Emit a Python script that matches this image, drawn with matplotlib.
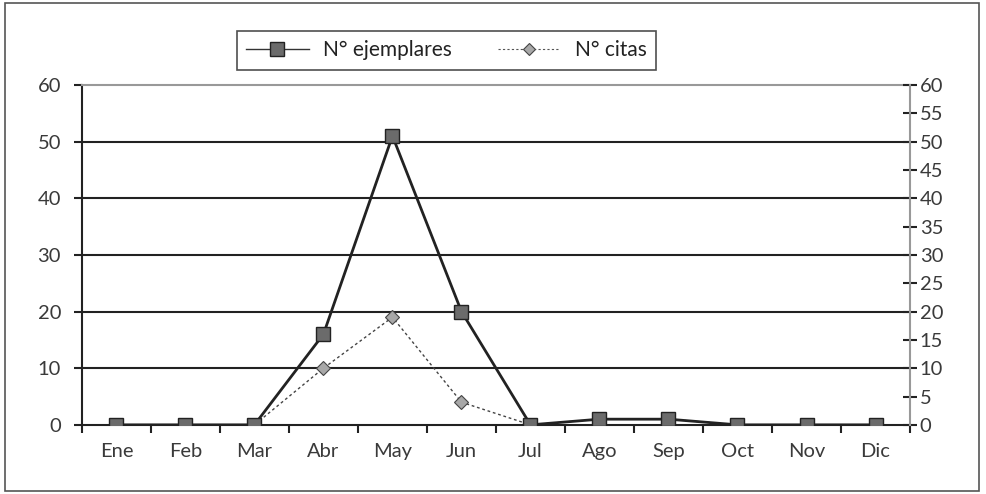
import matplotlib
matplotlib.use("Agg")
import matplotlib.pyplot as plt
from matplotlib.patches import Rectangle
from matplotlib.lines import Line2D

months = ["Ene", "Feb", "Mar", "Abr", "May", "Jun", "Jul", "Ago", "Sep", "Oct", "Nov", "Dic"]
ejemplares = [0, 0, 0, 16, 51, 20, 0, 1, 1, 0, 0, 0]
citas = [0, 0, 0, 10, 19, 4, 0, 1, 1, 0, 0, 0]
left_ticks = [0, 10, 20, 30, 40, 50, 60]
right_ticks = list(range(0, 61, 5))

plt.rcParams.update({"font.family": ["Lato", "DejaVu Sans"], "font.size": 14.5})

fig = plt.figure(figsize=(9.87, 4.94), dpi=100)
ax = fig.add_axes([0.083, 0.140, 0.839, 0.688])

x = list(range(len(months)))
ax.plot(x, ejemplares, color="#222222", lw=2, marker="s", ms=10,
        mfc="#6b6b6b", mec="#222222", mew=1, zorder=4)
ax.plot(x, citas, color="#444444", lw=1, ls=(0, (2, 2)), marker="D", ms=7,
        mfc="#a8a8a8", mec="#444444", mew=0.8, zorder=3)

ax.set_xlim(-0.5, len(months) - 0.5)
ax.set_ylim(0, 60)
ax.set_yticks(left_ticks)
for v in left_ticks[1:-1]:
    ax.axhline(v, color="#222222", lw=1.5, zorder=1)

ax.set_xticks(x)
ax.set_xticklabels(months, color="#3a3a3a")
ax.set_xticks([i - 0.5 for i in range(len(months) + 1)], minor=True)
ax.tick_params(axis="x", which="major", length=0, pad=13)
ax.tick_params(axis="x", which="minor", length=6, width=1.5, direction="out", color="#222222")
ax.tick_params(axis="y", length=6, width=1.5, color="#222222", labelcolor="#3a3a3a", pad=9)

ax.spines["left"].set_color("#222222")
ax.spines["left"].set_linewidth(1.5)
ax.spines["bottom"].set_color("#222222")
ax.spines["bottom"].set_linewidth(1.5)
ax.spines["top"].set_color("#999999")
ax.spines["top"].set_linewidth(1.5)
ax.spines["right"].set_visible(False)

ax2 = ax.twinx()
ax2.set_ylim(0, 60)
ax2.set_yticks(right_ticks)
ax2.tick_params(axis="y", length=10, width=1.5, direction="inout", color="#222222",
                labelcolor="#3a3a3a", pad=2)
ax2.spines["right"].set_color("#999999")
ax2.spines["right"].set_linewidth(1.5)
for s in ["left", "top", "bottom"]:
    ax2.spines[s].set_visible(False)

handles = [
    Line2D([], [], color="#333333", lw=1, marker="s", ms=10, mfc="#6b6b6b", mec="#222222"),
    Line2D([], [], color="#555555", lw=0.8, ls=(0, (2, 2)), marker="D", ms=6,
           mfc="#a8a8a8", mec="#444444", mew=0.8),
]
leg = fig.legend(handles, ["N° ejemplares", "N° citas"], loc="center",
                 bbox_to_anchor=(0.4524, 0.898), ncol=2, frameon=True, fancybox=False,
                 edgecolor="#222222", fontsize=15, handlelength=3.0,
                 columnspacing=2.2, borderpad=0.45, handletextpad=0.7)
leg.get_frame().set_linewidth(1.2)
for t in leg.get_texts():
    t.set_color("#222222")

fig.patches.append(Rectangle((5 / 987, 3 / 494), 974 / 987, 488 / 494,
                             transform=fig.transFigure, fill=False,
                             edgecolor="#555555", lw=1.2))

fig.savefig("out.png", dpi=100)
